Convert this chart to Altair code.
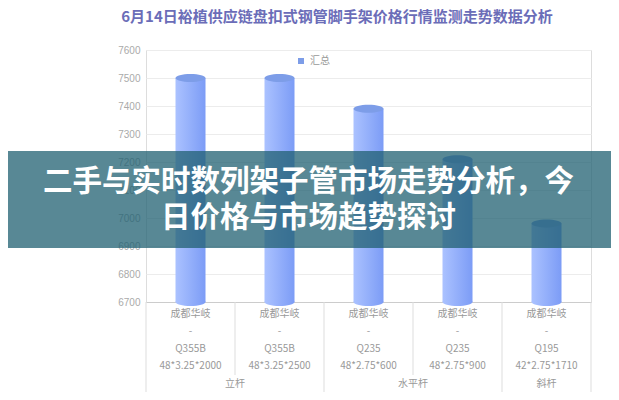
import altair as alt
import pandas as pd

# ---- data ----
brands = ["成都华岐", "成都华岐", "成都华岐", "成都华岐", "成都华岐"]
dashes = ["-", "-", "-", "-", "-"]
grades = ["Q355B", "Q355B", "Q235", "Q235", "Q195"]
specs = ["48*3.25*2000", "48*3.25*2500", "48*2.75*600", "48*2.75*900", "42*2.75*1710"]
values = [7500, 7500, 7390, 7210, 6980]
series = ["汇总"] * 5
groups = ["立杆", "水平杆", "斜杆"]
group_cols = [0, 2, 4]
y_ticks = [6700, 6800, 6900, 7000, 7100, 7200, 7300, 7400, 7500, 7600]
title_text = "6月14日裕植供应链盘扣式钢管脚手架价格行情监测走势数据分析"
banner_lines = ["二手与实时数列架子管市场走势分析，今", "日价格与市场趋势探讨"]

cats = ["|".join(t) for t in zip(brands, dashes, grades, specs)]
df = pd.DataFrame({"cat": cats, "value": values, "series": series})

FONT = "Noto Sans CJK SC"
W, H = 445, 252

xscale = alt.Scale(domain=cats, paddingInner=0, paddingOuter=0)
xaxis = alt.Axis(
    title=None, labelAngle=0, labelExpr="split(datum.label, '|')",
    labelColor="#999999", labelFontSize=10, labelFont=FONT,
    labelLineHeight=17.5, labelPadding=6, ticks=False, labelAlign="center",
    domainColor="#cccccc", grid=False, labelOverlap=False,
)
xenc = alt.X("cat:N", sort=cats, scale=xscale, axis=xaxis)
yscale = alt.Scale(domain=[6700, 7600], nice=False, zero=False)
yaxis = alt.Axis(
    title=None, values=y_ticks, domain=False, ticks=False, format="d",
    labelColor="#aaaaaa", labelFontSize=10, labelPadding=6, labelOverlap=False,
    gridColor="#ececec", labelFont="Liberation Sans", tickCount=10,
)
yenc = alt.Y("value:Q", scale=yscale, axis=yaxis)

grad = alt.Gradient(
    gradient="linear",
    stops=[alt.GradientStop(color="#abc2ff", offset=0),
           alt.GradientStop(color="#7c9cf6", offset=1)],
    x1=0, x2=1, y1=0, y2=0,
)
ellipse = "M-1,0A1,0.27,0,1,1,1,0A1,0.27,0,1,1,-1,0Z"

base = alt.Chart(df)

bars = base.mark_bar(size=30, fill=grad).encode(x=xenc, y=yenc, y2=alt.datum(6700))
bottom = base.mark_point(shape=ellipse, size=900, filled=True, fill=grad, opacity=1, strokeWidth=0).encode(
    x=xenc, y=alt.datum(6700, scale=yscale, axis=yaxis)
)
tops = base.mark_point(shape=ellipse, size=900, filled=True, opacity=1, strokeWidth=0).encode(
    x=xenc, y=yenc,
    color=alt.Color(
        "series:N",
        scale=alt.Scale(domain=["汇总"], range=["#7d9de8"]),
        legend=alt.Legend(
            title=None, orient="none", legendX=150, legendY=6,
            symbolType="square", symbolSize=36, labelFontSize=10,
            labelColor="#999999", labelFont=FONT, symbolOpacity=1,
        ),
    ),
)

# table lines
long_df = pd.DataFrame({"cat": [cats[0], cats[2], cats[4]]})
short_df = pd.DataFrame({"cat": [cats[1], cats[3]]})
end_df = pd.DataFrame({"cat": [cats[4]]})
rule_style = dict(color="#dddddd", strokeWidth=1)
long_rules = alt.Chart(long_df).mark_rule(**rule_style).encode(
    x=alt.X("cat:N", sort=cats, scale=xscale, bandPosition=0, axis=xaxis),
    y=alt.value(H), y2=alt.value(H + 90),
)
end_rule = alt.Chart(end_df).mark_rule(**rule_style).encode(
    x=alt.X("cat:N", sort=cats, scale=xscale, bandPosition=1, axis=xaxis),
    y=alt.value(H), y2=alt.value(H + 90),
)
short_rules = alt.Chart(short_df).mark_rule(**rule_style).encode(
    x=alt.X("cat:N", sort=cats, scale=xscale, bandPosition=0, axis=xaxis),
    y=alt.value(H), y2=alt.value(H + 73),
)

# group labels
g_df_a = pd.DataFrame({"cat": [cats[group_cols[0]], cats[group_cols[1]]], "g": groups[:2]})
g_df_b = pd.DataFrame({"cat": [cats[group_cols[2]]], "g": groups[2:]})
gtext_style = dict(fontSize=10, color="#999999", font=FONT, baseline="middle")
g_a = alt.Chart(g_df_a).mark_text(**gtext_style).encode(
    x=alt.X("cat:N", sort=cats, scale=xscale, bandPosition=1, axis=xaxis),
    y=alt.value(H + 82), text="g:N",
)
g_b = alt.Chart(g_df_b).mark_text(**gtext_style).encode(
    x=alt.X("cat:N", sort=cats, scale=xscale, bandPosition=0.5, axis=xaxis),
    y=alt.value(H + 82), text="g:N",
)

# title
t_df = pd.DataFrame({"t": [title_text]})
title = alt.Chart(t_df).mark_text(
    fontSize=15, fontWeight="bold", color="#6b6db8", font=FONT, baseline="middle"
).encode(x=alt.value(191), y=alt.value(-33), text="t:N")

# banner overlay
b_df = pd.DataFrame({"k": [0]})
banner = alt.Chart(b_df).mark_rect(color="rgb(32,96,113)", opacity=0.75).encode(
    x=alt.value(-138), x2=alt.value(465), y=alt.value(101), y2=alt.value(198)
)
bl1 = pd.DataFrame({"t": [banner_lines[0]]})
bl2 = pd.DataFrame({"t": [banner_lines[1]]})
btext_style = dict(fontSize=29.5, fontWeight="bold", color="white", font=FONT, baseline="middle")
banner_text1 = alt.Chart(bl1).mark_text(**btext_style).encode(
    x=alt.value(162.5), y=alt.value(132), text="t:N"
)
banner_text2 = alt.Chart(bl2).mark_text(**btext_style).encode(
    x=alt.value(162.5), y=alt.value(168), text="t:N"
)

chart = alt.layer(
    bars, bottom, tops, long_rules, end_rule, short_rules, g_a, g_b, title,
    banner, banner_text1, banner_text2
).properties(
    width=W, height=H,
    autosize=alt.AutoSizeParams(type="none"),
    padding={"left": 138, "top": 42, "right": 20, "bottom": 90},
).configure_view(stroke=None).configure(font=FONT)

chart.save("out.html", embed_options={"renderer": "svg", "actions": False})
